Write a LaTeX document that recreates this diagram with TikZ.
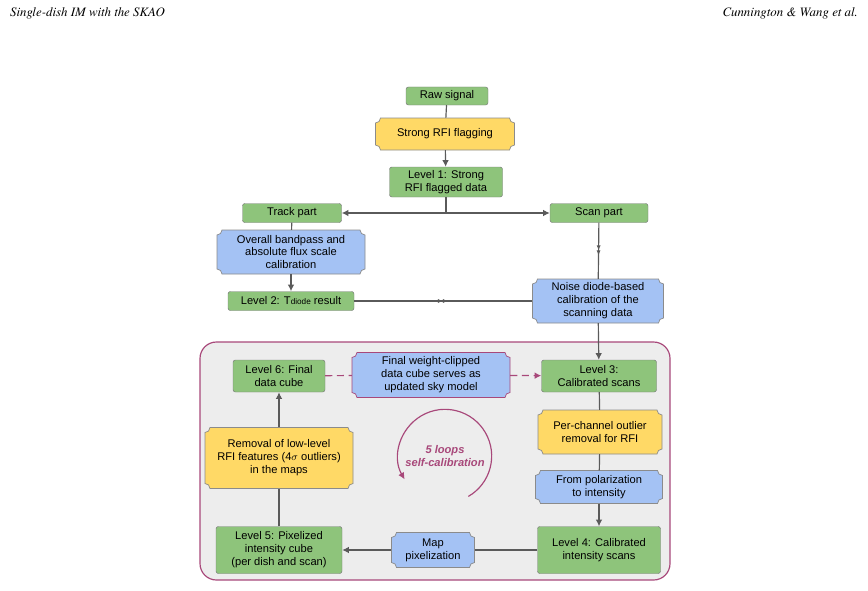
\documentclass[tikz,border=0pt]{standalone}
\usepackage{fontspec}
\setmainfont{TeX Gyre Termes}
\newfontfamily\boxfont{Liberation Sans}
\usetikzlibrary{arrows.meta,decorations.markings}
\definecolor{lvgreen}{HTML}{8EC47B}
\definecolor{lvyellow}{HTML}{FFD966}
\definecolor{lvblue}{HTML}{A4C2F4}
\definecolor{loopred}{HTML}{A8487A}
\definecolor{linegray}{HTML}{5A5A5A}
\tikzset{
  lvl/.style={draw=linegray!80, fill=lvgreen, rounded corners=2pt, align=center, inner sep=0pt, font=\boxfont\fontsize{9.5}{11}\selectfont},
  proc/.style={align=center, inner sep=0pt, font=\boxfont\fontsize{9.5}{11}\selectfont},
  conn/.style={draw=linegray, line width=1pt},
  arr/.style={conn, -{Latex[length=2mm,width=2mm]}},
  midarr/.style={conn, postaction={decorate}, decoration={markings,
    mark=at position 0.5 with {\arrow{Latex[length=1.6mm,width=1.2mm]}},
    mark=at position 0.5 with {\arrow[xshift=1.5mm]{Latex[length=1.6mm,width=1.2mm]}}}},
}
% plaque with concave corners: {style}{cx}{cy}{w}{h}
\newcommand\plaque[5]{%
  \draw[#1, line width=0.6pt] ({#2-#4/2+5},{#3-#5/2}) -- ({#2+#4/2-5},{#3-#5/2})
    arc[start angle=180, end angle=270, radius=0.15cm] -- ({#2+#4/2},{#3+#5/2-5})
    arc[start angle=90, end angle=180, radius=0.15cm] -- ({#2-#4/2+5},{#3+#5/2})
    arc[start angle=0, end angle=90, radius=0.15cm] -- ({#2-#4/2},{#3-#5/2+5})
    arc[start angle=270, end angle=360, radius=0.15cm] -- cycle;}
\begin{document}
\begin{tikzpicture}[x=0.03cm, y=-0.03cm]
\useasboundingbox (0,0) rectangle (868,591);
\node[anchor=west, font=\itshape\fontsize{11}{13}\selectfont] (head1) at (6,13) {Single-dish IM with the SKAO};
\node[anchor=east, font=\itshape\fontsize{11}{13}\selectfont] (head2) at (862,13) {Cunnington \& Wang et al.};
% loop frame
\draw[loopred, fill=black!7, line width=1pt, rounded corners=14pt] (200,342) rectangle (670,580);
% upper part
\node[lvl, minimum width=82*0.03cm, minimum height=18*0.03cm] (raw) at (447,96) {Raw signal};
\plaque{draw=linegray!70, fill=lvyellow}{445}{134}{139}{32}
\node[proc, minimum width=139*0.03cm, minimum height=32*0.03cm] (rfi) at (445,134) {Strong RFI flagging};
\node[lvl, minimum width=113*0.03cm, minimum height=30*0.03cm] (lv1) at (446,182) {Level 1: Strong\\RFI flagged data};
\node[lvl, minimum width=99*0.03cm, minimum height=19*0.03cm] (track) at (292,213) {Track part};
\node[lvl, minimum width=98*0.03cm, minimum height=19*0.03cm] (scan) at (599,213) {Scan part};
\plaque{draw=linegray!70, fill=lvblue}{291}{252}{148}{44}
\node[proc, minimum width=148*0.03cm, minimum height=44*0.03cm] (band) at (291,252) {Overall bandpass and\\absolute flux scale\\calibration};
\node[lvl, minimum width=126*0.03cm, minimum height=19*0.03cm] (lv2) at (291,301) {Level 2: T{\fontsize{7}{8}\selectfont diode} result};
\plaque{draw=linegray!70, fill=lvblue}{598}{301}{131}{44}
\node[proc, minimum width=131*0.03cm, minimum height=44*0.03cm] (diode) at (598,301) {Noise diode-based\\calibration of the\\scanning data};
% loop part
\node[lvl, minimum width=92*0.03cm, minimum height=32*0.03cm] (lv6) at (279,376) {Level 6: Final\\data cube};
\plaque{draw=loopred, fill=lvblue}{431}{375}{158}{45}
\node[proc, minimum width=158*0.03cm, minimum height=45*0.03cm] (sky) at (431,375) {Final weight-clipped\\data cube serves as\\updated sky model};
\node[lvl, minimum width=115*0.03cm, minimum height=32*0.03cm] (lv3) at (599,376) {Level 3:\\Calibrated scans};
\plaque{draw=linegray!70, fill=lvyellow}{600}{432}{124}{44}
\node[proc, minimum width=124*0.03cm, minimum height=44*0.03cm] (outl) at (600,432) {Per-channel outlier\\removal for RFI};
\plaque{draw=linegray!70, fill=lvblue}{599}{487}{127}{33}
\node[proc, minimum width=127*0.03cm, minimum height=33*0.03cm] (pol) at (599,487) {From polarization\\to intensity};
\node[lvl, minimum width=123*0.03cm, minimum height=47*0.03cm] (lv4) at (599,550) {Level 4: Calibrated\\intensity scans};
\plaque{draw=linegray!70, fill=lvblue}{433}{550}{83}{35}
\node[proc, minimum width=83*0.03cm, minimum height=35*0.03cm] (pix) at (433,550) {Map\\pixelization};
\node[lvl, minimum width=126*0.03cm, minimum height=47*0.03cm] (lv5) at (279,550) {Level 5: Pixelized\\intensity cube\\(per dish and scan)};
\plaque{draw=linegray!70, fill=lvyellow}{279}{458}{148}{61}
\node[proc, minimum width=148*0.03cm, minimum height=61*0.03cm] (rem) at (279,458) {Removal of low-level\\RFI features (4$\sigma$ outliers)\\in the maps};
% self-calibration circle
\coordinate (loopc) at (445,456);
\draw[loopred, line width=1pt, -{Latex[length=2mm,width=2mm]}] (loopc) ++(-60:1.4cm) arc[start angle=-60, end angle=210, radius=1.4cm];
\node[text=loopred, align=center, font=\boxfont\bfseries\itshape\fontsize{9.5}{11}\selectfont] (loops) at (loopc) {5 loops\\self-calibration};
% connectors
\draw[conn] (raw) -- (rfi);
\draw[arr] (rfi) -- (lv1);
\coordinate (split) at (446,213);
\draw[conn] (lv1) -- (split);
\draw[arr] (split) -- (track);
\draw[arr] (split) -- (scan);
\draw[conn] (track) -- (band);
\draw[arr] (band) -- (lv2);
\draw[midarr] (scan) -- (diode);
\draw[midarr] (lv2) -- (diode);
\draw[arr] (diode) -- (lv3);
\draw[loopred, line width=1pt, dash pattern=on 6pt off 4pt] (lv6) -- (sky);
\draw[loopred, line width=1pt, dash pattern=on 6pt off 4pt, -{Latex[length=2mm,width=2mm]}] (sky) -- (lv3);
\draw[conn] (lv3) -- (outl);
\draw[conn] (outl) -- (pol);
\draw[arr] (pol) -- (lv4);
\draw[conn] (lv4) -- (pix);
\draw[arr] (pix) -- (lv5);
\draw[conn] (lv5) -- (rem);
\draw[arr] (rem) -- (lv6);
\end{tikzpicture}
\end{document}
